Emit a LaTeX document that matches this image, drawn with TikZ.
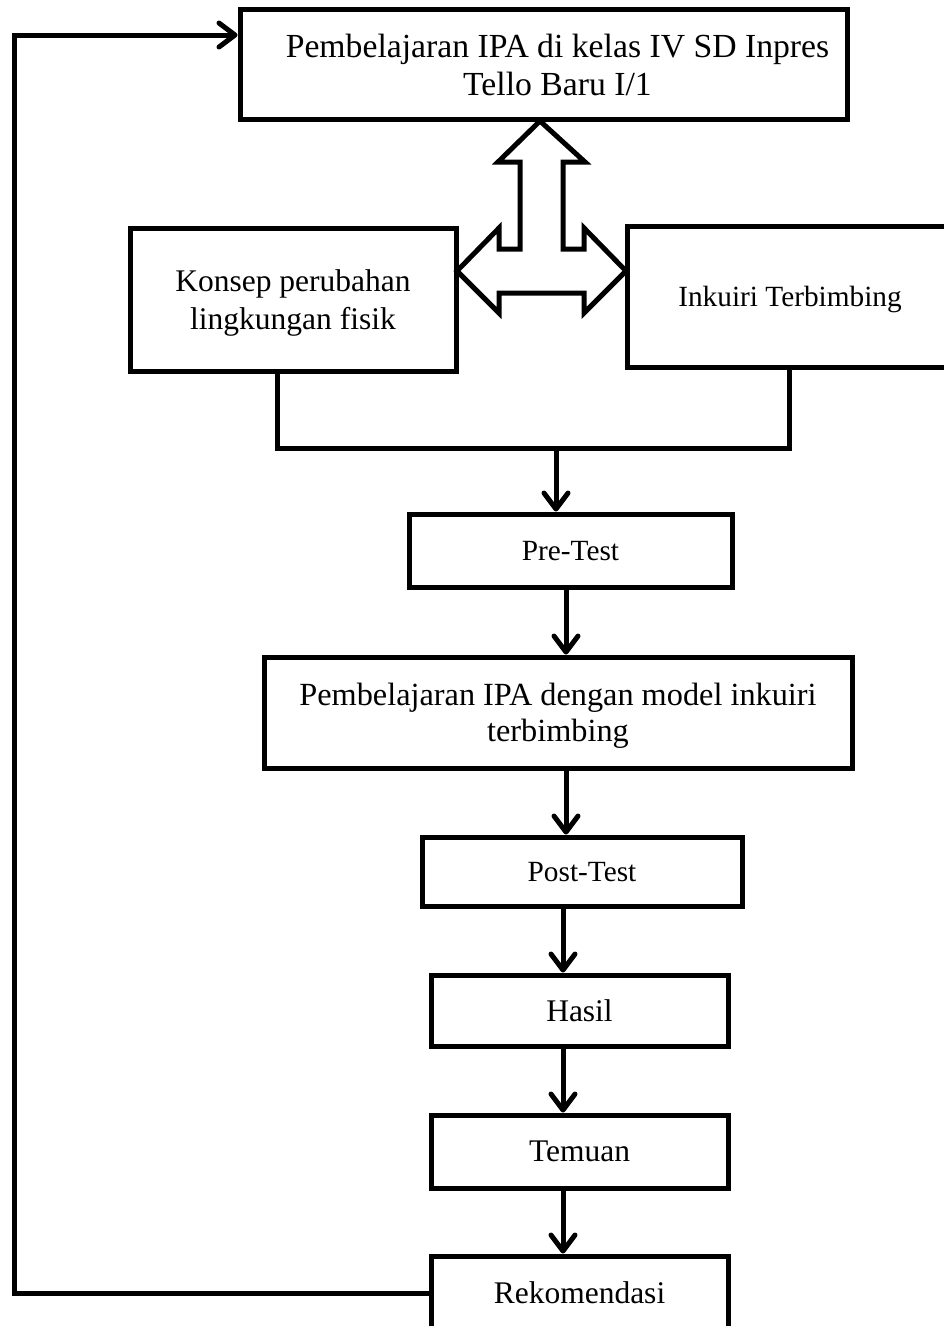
\documentclass[tikz,border=0pt]{standalone}
\usepackage{fontspec}
\setmainfont{Liberation Serif}
\usetikzlibrary{arrows.meta,calc}
\begin{document}
\begin{tikzpicture}[x=1pt,y=-1pt,
  box/.style={draw, line width=5pt, rectangle, inner sep=0pt, align=center, line join=miter, text depth=0pt},
  arr/.style={line width=5pt, line join=miter, -{Straight Barb[length=16pt,width=24pt,round]}},
  conn/.style={line width=5pt, line join=miter},
  fA/.style={font=\fontsize{33.7}{38.5}\selectfont},
  fB/.style={font=\fontsize{32.3}{36.5}\selectfont},
  fK/.style={font=\fontsize{31.5}{38}\selectfont},
  fS/.style={font=\fontsize{29.3}{34}\selectfont}]
\clip (0,0) rectangle (944,1326);
\fill[white] (0,0) rectangle (944,1326);
% boxes
\node[box, minimum width=607pt, minimum height=110pt,
  label={[fA, align=center, xshift=14pt, yshift=-1pt]center:{Pembelajaran IPA di kelas IV SD Inpres\\Tello Baru I/1}}] (top) at (543.5,64) {};
\node[box, fK, minimum width=326pt, minimum height=143pt] (konsep) at (293,299.5) {Konsep perubahan\\lingkungan fisik};
\node[box, fS, minimum width=326pt, minimum height=141pt] (ink) at (790,296.5) {Inkuiri Terbimbing};
\node[box, fS, minimum width=323pt, minimum height=73pt] (pre) at (570.5,550.5) {Pre-Test};
\node[box, fB, minimum width=588pt, minimum height=111pt] (big) at (558,712.5) {Pembelajaran IPA dengan model inkuiri\\terbimbing};
\node[box, fS, minimum width=320pt, minimum height=69pt] (post) at (582,871.5) {Post-Test};
\node[box, fK, minimum width=297pt, minimum height=71pt] (hasil) at (579.5,1010.5) {Hasil};
\node[box, fK, minimum width=297pt, minimum height=73pt] (temuan) at (579.5,1151.5) {Temuan};
\node[box, fK, minimum width=297pt, minimum height=74pt] (rek) at (579.5,1293) {Rekomendasi};
% triple arrow shape
\draw[line width=5pt, fill=white, line join=miter]
  (540,121) -- (585,162) -- (563,162) -- (563,249) -- (584,249) -- (584,228)
  -- (626,271) -- (584,313) -- (584,293) -- (499,293) -- (499,313) -- (457,271)
  -- (499,228) -- (499,249) -- (520,249) -- (520,162) -- (498,162) -- cycle;
% bracket
\coordinate (bl) at (277,448);
\coordinate (br) at (789,448);
\coordinate (bm) at (556,448);
\draw[conn] (konsep.south -| bl) -- (bl) -- (br) -- (ink.south -| br);
\draw[arr] (bm) -- (pre.north -| bm);
% chain arrows
\coordinate (c1) at (566,0);
\coordinate (c2) at (563,0);
\draw[arr] (pre.south -| c1) -- (big.north -| c1);
\draw[arr] (big.south -| c1) -- (post.north -| c1);
\draw[arr] (post.south -| c2) -- (hasil.north -| c2);
\draw[arr] (hasil.south -| c2) -- (temuan.north -| c2);
\draw[arr] (temuan.south -| c2) -- (rek.north -| c2);
% feedback loop
\coordinate (fb) at (14,0);
\coordinate (ty) at (0,35);
\draw[arr] (rek.west) -- (rek.west -| fb) -- (fb |- ty) -- (top.west |- ty);
\end{tikzpicture}
\end{document}
